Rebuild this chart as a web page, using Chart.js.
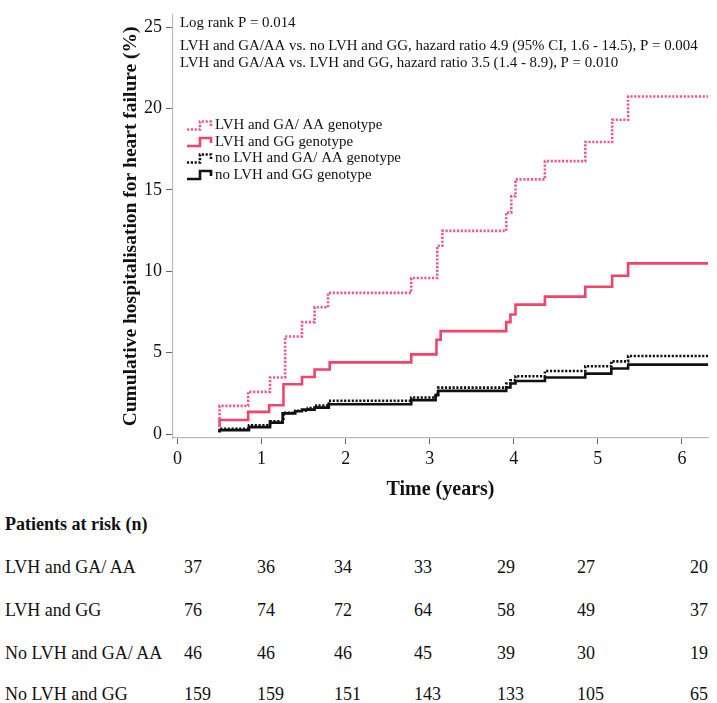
<!DOCTYPE html>
<html>
<head>
<meta charset="utf-8">
<script src="https://cdn.jsdelivr.net/npm/chart.js@4.4.1/dist/chart.umd.min.js"></script>
<style>
  body { margin: 0; background: #fff; }
  #wrap { position: relative; width: 717px; height: 703px; overflow: hidden; }
  #chart { position: absolute; left: 0; top: 0; }
  .cell { position: absolute; font-family: 'Liberation Serif', 'Times New Roman', serif; font-size: 18px; color: #111; white-space: nowrap; line-height: 20px; }
  .head { font-weight: bold; }
</style>
</head>
<body>
<div id="wrap">
  <canvas id="chart" width="717" height="505"></canvas>
</div>
<script>
// step points (time in years, cumulative %)
const timesLvhGa = [0.5, 0.5, 0.84, 1.10, 1.28, 1.48, 1.63, 1.79, 2.78, 3.09, 3.15, 3.91, 3.97, 4.02, 4.37, 4.85, 5.17, 5.36, 6.31];
const valsLvhGa = [0.45, 1.73, 2.59, 3.47, 5.99, 6.87, 7.79, 8.67, 9.58, 11.56, 12.48, 13.6, 14.6, 15.64, 16.76, 17.94, 19.3, 20.73, 20.73];

const timesLvhGg = [0.5, 0.5, 0.84, 1.09, 1.26, 1.48, 1.63, 1.81, 2.78, 3.08, 3.13, 3.91, 3.96, 4.02, 4.37, 4.85, 5.17, 5.36, 6.31];
const valsLvhGg = [0.42, 0.86, 1.36, 1.77, 3.06, 3.5, 3.96, 4.4, 4.89, 5.79, 6.32, 6.87, 7.34, 7.95, 8.44, 9.05, 9.72, 10.48, 10.48];

const timesNoGa = [0.5, 0.5, 0.85, 1.10, 1.26, 1.40, 1.55, 1.65, 1.80, 2.78, 3.07, 3.10, 3.91, 3.96, 4.02, 4.37, 4.85, 5.16, 5.36, 6.31];
const valsNoGa = [0.12, 0.32, 0.53, 0.78, 1.3, 1.43, 1.6, 1.75, 2.04, 2.24, 2.45, 2.85, 3.1, 3.3, 3.55, 3.87, 4.16, 4.46, 4.79, 4.79];

const timesNoGg = [0.5, 0.5, 0.85, 1.10, 1.25, 1.40, 1.48, 1.63, 1.80, 2.78, 3.07, 3.10, 3.91, 3.96, 4.02, 4.37, 4.85, 5.16, 5.36, 6.31];
const valsNoGg = [0.1, 0.24, 0.42, 0.7, 1.27, 1.4, 1.5, 1.62, 1.83, 2.08, 2.39, 2.65, 2.86, 3.1, 3.26, 3.47, 3.71, 4.02, 4.26, 4.26];

const seriesLabels = ['LVH and GA/ AA genotype', 'LVH and GG genotype', 'no LVH and GA/ AA genotype', 'no LVH and GG genotype'];

const xTicks = [0, 1, 2, 3, 4, 5, 6];
const yTicks = [0, 5, 10, 15, 20, 25];

const notes = [
  'Log rank P = 0.014',
  'LVH and GA/AA vs. no LVH and GG, hazard ratio 4.9 (95% CI, 1.6 - 14.5), P = 0.004',
  'LVH and GA/AA vs. LVH and GG, hazard ratio 3.5 (1.4 - 8.9), P = 0.010',
];

// patients at risk table
const riskTitle = 'Patients at risk (n)';
const riskGroups = ['LVH and GA/ AA', 'LVH and GG', 'No LVH and GA/ AA', 'No LVH and GG'];
const riskLvhGa = [37, 36, 34, 33, 29, 27, 20];
const riskLvhGg = [76, 74, 72, 64, 58, 49, 37];
const riskNoGa = [46, 46, 46, 45, 39, 30, 19];
const riskNoGg = [159, 159, 151, 143, 133, 105, 65];

const PINK_DOT = '#ee5890';
const PINK = '#f2436a';
const BLACK = '#111111';
const serif = "'Liberation Serif', 'Times New Roman', serif";

function toPoints(times, vals) {
  return times.map((t, i) => ({ x: t, y: vals[i] }));
}

const styles = [
  { color: PINK_DOT, dash: [2.2, 1.6] },
  { color: PINK, dash: [] },
  { color: BLACK, dash: [2.2, 1.6] },
  { color: BLACK, dash: [] },
];

const allSeries = [
  toPoints(timesLvhGa, valsLvhGa),
  toPoints(timesLvhGg, valsLvhGg),
  toPoints(timesNoGa, valsNoGa),
  toPoints(timesNoGg, valsNoGg),
];

const datasets = allSeries.map((pts, i) => ({
  label: seriesLabels[i],
  data: pts,
  borderColor: styles[i].color,
  borderDash: styles[i].dash,
  borderWidth: 2.6,
  borderCapStyle: 'butt',
  stepped: true,
  pointRadius: 0,
  fill: false,
}));

// annotation text + step-shaped legend inside the plot
const overlayPlugin = {
  id: 'overlay',
  afterDatasetsDraw(chart) {
    const ctx = chart.ctx;
    ctx.save();
    ctx.fillStyle = '#111';
    ctx.font = `14.9px ${serif}`;
    ctx.textBaseline = 'middle';
    ctx.textAlign = 'left';
    const noteY = [23, 46.5, 63.5];
    notes.forEach((txt, i) => ctx.fillText(txt, 180, noteY[i]));

    const rowY = [125.5, 142, 158.5, 175];
    chart.data.datasets.forEach((ds, i) => {
      const y = rowY[i];
      ctx.save();
      ctx.strokeStyle = ds.borderColor;
      ctx.lineWidth = 2.6;
      ctx.setLineDash(ds.borderDash);
      ctx.beginPath();
      ctx.moveTo(187, y + 4);
      ctx.lineTo(200, y + 4);
      ctx.lineTo(200, y - 4);
      ctx.lineTo(211, y - 4);
      ctx.lineTo(211, y + 1);
      ctx.stroke();
      ctx.restore();
      ctx.fillText(ds.label, 215, y);
    });
    ctx.restore();
  },
};

new Chart(document.getElementById('chart'), {
  type: 'line',
  data: { datasets },
  plugins: [overlayPlugin],
  options: {
    responsive: false,
    animation: false,
    layout: { padding: { top: 13, right: 9, left: 0, bottom: 0 } },
    plugins: { legend: { display: false }, tooltip: { enabled: false } },
    scales: {
      x: {
        type: 'linear',
        min: -0.054,
        max: 6.31,
        afterBuildTicks: (s) => { s.ticks = xTicks.map((v) => ({ value: v })); },
        afterFit: (s) => { s.height = 67; },
        ticks: { color: '#111', font: { family: serif, size: 18 }, padding: 4, maxRotation: 0 },
        grid: { drawOnChartArea: false, drawTicks: true, tickLength: 6, color: '#666', lineWidth: 1 },
        border: { display: true, color: '#b9bdbd', width: 1.2 },
        title: { display: true, text: 'Time (years)', color: '#111', font: { family: serif, size: 20, weight: 'bold' }, padding: { top: 0, bottom: 3 } },
      },
      y: {
        type: 'linear',
        min: -0.245,
        max: 25.75,
        afterBuildTicks: (s) => { s.ticks = yTicks.map((v) => ({ value: v })); },
        afterFit: (s) => { s.width = 173; },
        ticks: { color: '#111', font: { family: serif, size: 18 }, padding: 4 },
        grid: { drawOnChartArea: false, drawTicks: true, tickLength: 7, color: '#666', lineWidth: 1 },
        border: { display: true, color: '#b9bdbd', width: 1.2 },
        title: { display: true, text: 'Cumulative hospitalisation for heart failure (%)', color: '#111', font: { family: serif, size: 19.5, weight: 'bold' }, padding: { top: 119, bottom: 0 } },
      },
    },
  },
});

// patients at risk rows as text below the chart
const wrap = document.getElementById('wrap');
const riskRows = [riskLvhGa, riskLvhGg, riskNoGa, riskNoGg];
const colX = [184, 257, 334, 414, 497, 577, 690];
const headY = 524;
const rowTop = [567, 610, 653, 694];

function addCell(text, x, y, cls) {
  const d = document.createElement('div');
  d.className = 'cell' + (cls ? ' ' + cls : '');
  d.textContent = text;
  d.style.left = x + 'px';
  d.style.top = (y - 10) + 'px';
  wrap.appendChild(d);
}

addCell(riskTitle, 5, headY, 'head');
riskRows.forEach((row, r) => {
  addCell(riskGroups[r], 5, rowTop[r]);
  row.forEach((n, c) => addCell(String(n), colX[c], rowTop[r]));
});
</script>
</body>
</html>
